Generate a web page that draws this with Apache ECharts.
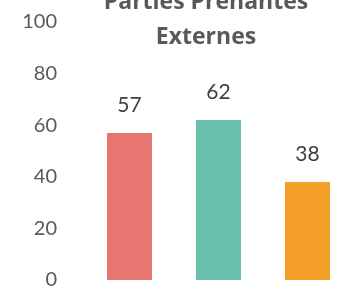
<!DOCTYPE html>
<html><head><meta charset="utf-8">
<script src="https://cdn.jsdelivr.net/npm/echarts@6/dist/echarts.min.js"></script>
<style>html,body{margin:0;padding:0;background:#fff;overflow:hidden}#c{width:360px;height:297px}</style>
</head><body><div id="c"></div>
<script>
var categories = ['A', 'B', 'C'];
var values = [57, 62, 38];
var barColors = ['#E77570', '#69C1AD', '#F49F27'];
var yTicks = [0, 20, 40, 60, 80, 100];
var titleText = 'Parties Prenantes\nExternes';

var chart = echarts.init(document.getElementById('c'), null, {renderer: 'canvas'});
chart.setOption({
  animation: false,
  backgroundColor: '#fff',
  title: {
    text: titleText,
    left: 201, top: -20, textAlign: 'center',
    textStyle: {fontFamily: 'Open Sans', fontWeight: 'bold', fontSize: 23, lineHeight: 35, color: '#595959'}
  },
  grid: {left: 85, width: 267, top: 22, height: 258, containLabel: false},
  xAxis: {
    type: 'category', data: categories,
    axisLine: {show: false}, axisTick: {show: false}, axisLabel: {show: false}, splitLine: {show: false}
  },
  yAxis: {
    type: 'value', min: yTicks[0], max: yTicks[yTicks.length - 1], interval: yTicks[1] - yTicks[0],
    axisLine: {show: false}, axisTick: {show: false}, splitLine: {show: false},
    axisLabel: {margin: 28, fontFamily: 'Lato', fontSize: 20, color: '#595959'}
  },
  series: [{
    type: 'bar', barWidth: 45,
    data: values.map(function (v, i) { return {value: v, itemStyle: {color: barColors[i]}}; }),
    label: {show: true, position: 'top', distance: 17, fontFamily: 'Lato', fontSize: 21, color: '#404040'}
  }]
});
</script></body></html>
